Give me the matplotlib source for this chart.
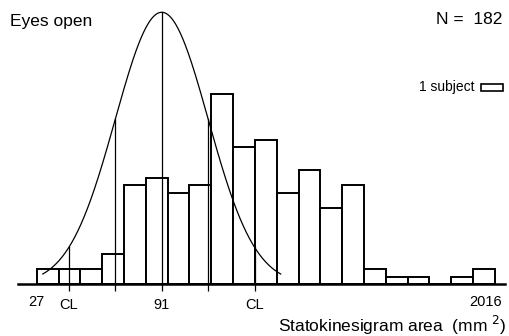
import matplotlib
matplotlib.use("Agg")
import matplotlib.pyplot as plt
from matplotlib.patches import Rectangle
import numpy as np

plt.rcParams["font.family"] = ["Liberation Sans", "DejaVu Sans"]

# subjects per (log-area) bin, 21 equal bins from 27 to 2016 mm^2
counts = [2, 2, 2, 4, 13, 14, 12, 13, 25, 18, 19, 12, 15, 10, 13, 2, 1, 1, 0, 1, 2]
bin_edges = np.arange(len(counts) + 1)

# fitted normal curve (in bin units)
fit_mean = 5.73
fit_sd = 2.13
fit_peak = 35.7
fit_span = 5.45

edge_labels = ["27", "2016"]
edge_label_pos = [0.0, 20.55]
n_subjects = 182

fig = plt.figure(figsize=(5.10, 3.36), dpi=100)
ax = fig.add_axes([18.3 / 510, 51.7 / 336, (505 - 18.3) / 510, 284.3 / 336])

ax.bar(bin_edges[:-1], counts, width=1, align="edge", facecolor="white",
       edgecolor="black", linewidth=1.4, zorder=2)

xs = np.linspace(fit_mean - fit_span, fit_mean + fit_span, 300)
ys = fit_peak * np.exp(-0.5 * ((xs - fit_mean) / fit_sd) ** 2)
ax.plot(xs, ys, color="black", linewidth=0.9, zorder=3)

marks = [fit_mean - 2 * fit_sd, fit_mean - fit_sd, fit_mean,
         fit_mean + fit_sd, fit_mean + 2 * fit_sd]
for m in marks:
    top = fit_peak * np.exp(-0.5 * ((m - fit_mean) / fit_sd) ** 2)
    ax.plot([m, m], [0, top], color="black", linewidth=0.9, zorder=3)

ax.set_xlim(-0.843, 21.46)
ax.set_ylim(0, 284.3 / 7.62)
ax.set_xticks(marks)
ax.set_xticklabels(["CL", "", "91", "", "CL"], fontsize=10.5)
ax.tick_params(axis="x", direction="out", length=5, width=0.9, pad=5)
ax.set_yticks([])
for s in ["top", "right", "left"]:
    ax.spines[s].set_visible(False)
ax.spines["bottom"].set_linewidth(1.8)

for lab, pos in zip(edge_labels, edge_label_pos):
    ax.text(pos, -17.4 / 7.62, lab, ha="center", va="center", fontsize=10.5)

# legend box: one subject = one bin wide, one count tall
ax.add_patch(Rectangle((20.36, 25.4), 1, 0.85, facecolor="white",
                       edgecolor="black", linewidth=1.2, clip_on=False))
ax.text(20.05, 25.83, "1 subject", ha="right", va="center", fontsize=10)

fig.text(10 / 510, 1 - 21.7 / 336, "Eyes open", ha="left", va="center", fontsize=12.5)
fig.text(502 / 510, 1 - 20 / 336, f"N =  {n_subjects}", ha="right", va="center", fontsize=12.5)
fig.text(507 / 510, 1 - 325 / 336, "Statokinesigram area  (mm $^2$)", ha="right",
         va="center", fontsize=12.5)

fig.savefig("out.png", dpi=100)
